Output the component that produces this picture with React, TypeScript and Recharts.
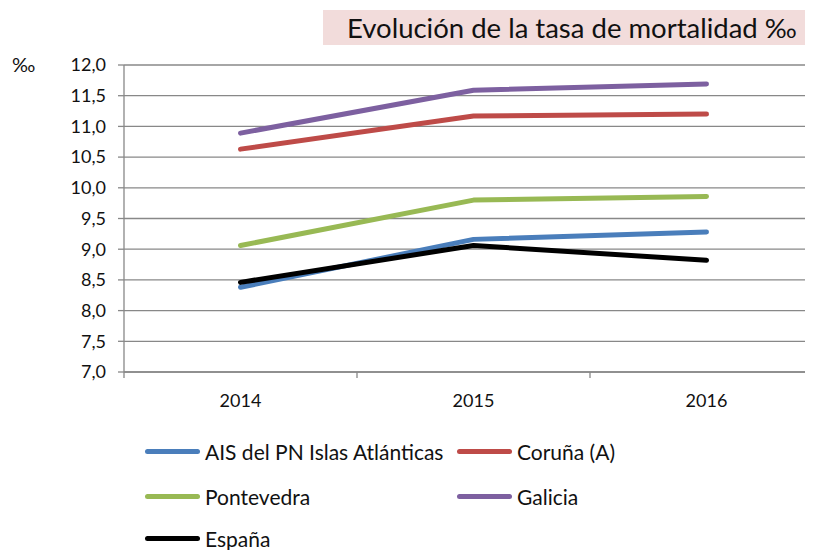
import React from 'react';
import { LineChart, Line, XAxis, YAxis, CartesianGrid } from 'recharts';

const YEARS = ['2014', '2015', '2016'];
const AIS = [8.38, 9.16, 9.28];
const CORUNA = [10.63, 11.17, 11.2];
const PONTEVEDRA = [9.06, 9.8, 9.86];
const GALICIA = [10.89, 11.59, 11.69];
const ESPANA = [8.46, 9.06, 8.82];
const Y_TICKS = [7, 7.5, 8, 8.5, 9, 9.5, 10, 10.5, 11, 11.5, 12];

const SERIES = [
  { key: 'ais', name: 'AIS del PN Islas Atlánticas', color: '#4A7EBB', values: AIS },
  { key: 'coruna', name: 'Coruña (A)', color: '#BE4B48', values: CORUNA },
  { key: 'pontevedra', name: 'Pontevedra', color: '#98B954', values: PONTEVEDRA },
  { key: 'galicia', name: 'Galicia', color: '#7D60A0', values: GALICIA },
  { key: 'espana', name: 'España', color: '#000000', values: ESPANA },
];

// x as band position: year i sits in the middle of [i, i+1]
const data = YEARS.map((year, i) => {
  const row: Record<string, number | string> = { x: i + 0.5, year };
  SERIES.forEach(s => { row[s.key] = s.values[i]; });
  return row;
});

const X_TICKS = [0, 0.5, 1, 1.5, 2, 2.5, 3];
const FONT = 'Lato, "Open Sans", sans-serif';
const AXIS_GRAY = '#888888';

const XTick = (props: any) => {
  const { x, y, payload } = props;
  const v = payload.value as number;
  if (Number.isInteger(v)) {
    return <line x1={x} x2={x} y1={y} y2={y + 6} stroke={AXIS_GRAY} strokeWidth={1.3} />;
  }
  return (
    <text x={x} y={y + 35} textAnchor="middle" fontSize={18} fontFamily={FONT} fill="#111">
      {YEARS[Math.floor(v)]}
    </text>
  );
};

const legendPos = [
  { left: 137, top: 443 },
  { left: 449, top: 443 },
  { left: 137, top: 488 },
  { left: 449, top: 488 },
  { left: 137, top: 530 },
];

export default function App() {
  return (
    <div style={{ position: 'relative', width: 805, height: 542, overflow: 'hidden', fontFamily: FONT }}>
      <div
        style={{
          position: 'absolute', left: 315, top: 2, width: 490, height: 35,
          background: '#F2DCDB', fontSize: 27.5, lineHeight: '35px', paddingLeft: 24,
          boxSizing: 'border-box', color: '#111', whiteSpace: 'nowrap',
        }}
      >
        Evolución de la tasa de mortalidad ‰
      </div>
      <div style={{ position: 'absolute', left: 4, top: 44, fontSize: 20, color: '#111' }}>‰</div>
      <div style={{ position: 'absolute', left: 0, top: 0 }}>
        <LineChart width={830} height={420} data={data} margin={{ top: 57, right: 15, bottom: 6, left: 0 }}>
          <CartesianGrid vertical={false} stroke={AXIS_GRAY} strokeWidth={1.3} />
          <XAxis
            dataKey="x"
            type="number"
            domain={[0, 3]}
            ticks={X_TICKS}
            interval={0}
            tick={<XTick />}
            tickLine={false}
            tickSize={0}
            tickMargin={0}
            height={50}
            axisLine={{ stroke: AXIS_GRAY, strokeWidth: 1.3 }}
          />
          <YAxis
            type="number"
            domain={[7, 12]}
            ticks={Y_TICKS}
            interval={0}
            width={116}
            tickSize={6}
            tickMargin={12}
            tickFormatter={(v: number) => v.toFixed(1).replace('.', ',')}
            tick={{ fontSize: 18, fontFamily: FONT, fill: '#111' }}
            tickLine={{ stroke: AXIS_GRAY, strokeWidth: 1.3 }}
            axisLine={{ stroke: AXIS_GRAY, strokeWidth: 1.3 }}
          />
          {SERIES.map(s => (
            <Line
              key={s.key}
              dataKey={s.key}
              name={s.name}
              stroke={s.color}
              strokeWidth={5}
              strokeLinecap="round"
              strokeLinejoin="round"
              dot={false}
              activeDot={false}
              isAnimationActive={false}
            />
          ))}
        </LineChart>
      </div>
      {SERIES.map((s, i) => (
        <div
          key={s.key}
          style={{
            position: 'absolute', left: legendPos[i].left, top: legendPos[i].top - 13,
            height: 26, display: 'flex', alignItems: 'center', fontSize: 21, color: '#111', whiteSpace: 'nowrap',
          }}
        >
          <span style={{ display: 'inline-block', width: 55, height: 5, borderRadius: 3, background: s.color, marginRight: 5 }} />
          {s.name}
        </div>
      ))}
    </div>
  );
}
